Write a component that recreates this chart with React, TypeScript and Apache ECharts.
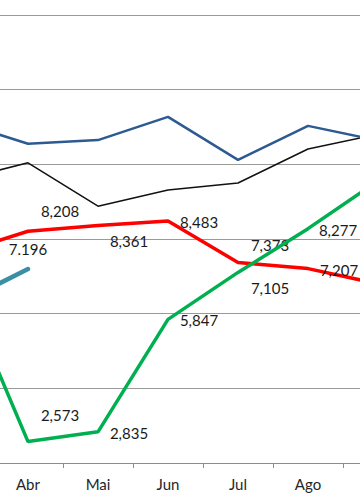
import React, { useEffect, useRef } from "react";
import * as echarts from "echarts";

// Visible window shows Abr..Ago; neighbours Mar and Set are partly visible (clipped)
const categories = ["Mar", "Abr", "Mai", "Jun", "Jul", "Ago", "Set"];
const redValues = [7.61, 8.208, 8.361, 8.483, 7.373, 7.207, 6.8];
const greenValues = [7.0, 2.573, 2.835, 5.847, 7.105, 8.277, 9.56];
const tealValues = [6.25, 7.196, null, null, null, null, null];
const navyValues = [11.15, 10.55, 10.65, 11.27, 10.12, 11.03, 10.64];
const blackValues = [9.57, 10.04, 8.88, 9.31, 9.5, 10.41, 10.81];
const yTicks = [2, 4, 6, 8, 10, 12, 14];

// label placement (style only): [dx, dy] per category, null = no label
const redLabelOffsets: ([number, number] | null)[] = [null, [32, -20], [31, 15], [31, 1], [32, -17], [31, 1], null];
const greenLabelOffsets: ([number, number] | null)[] = [null, [32, -27], [31, 1], [31, 1], [32, 16], [30, 1], null];
const tealLabelOffsets: ([number, number] | null)[] = [null, [0, -20], null, null, null, null, null];

const FONT = "Lato, 'Open Sans', sans-serif";

function buildData(values: (number | null)[], offsets: ([number, number] | null)[], sep: string) {
  return values.map((v, i) => {
    const off = offsets[i];
    if (v === null) return null;
    if (!off) return { value: v, label: { show: false } };
    return {
      value: v,
      label: {
        show: true,
        position: "inside",
        offset: off,
        formatter: () => v.toFixed(3).replace(".", sep),
      },
    };
  });
}

export default function App() {
  const ref = useRef<HTMLDivElement>(null);
  useEffect(() => {
    if (!ref.current) return;
    const chart = echarts.init(ref.current, undefined, { renderer: "svg" });
    const labelStyle = { fontFamily: FONT, fontSize: 15, color: "#1a1a1a" };
    const lastIdx = categories.length - 1;
    chart.setOption({
      animation: false,
      backgroundColor: "#ffffff",
      grid: { left: 0, right: 0, top: 15, bottom: 41, containLabel: false },
      xAxis: {
        type: "category",
        data: categories,
        boundaryGap: true,
        axisLine: { show: true, lineStyle: { color: "#8c8c8c", width: 1 } },
        axisTick: { show: true, length: 5, alignWithLabel: false, interval: 0, lineStyle: { color: "#8c8c8c" } },
        axisLabel: {
          fontFamily: FONT,
          fontSize: 15,
          color: "#262626",
          margin: 13,
          interval: (index: number) => index > 0 && index < lastIdx,
        },
        splitLine: { show: false },
      },
      yAxis: {
        type: "value",
        min: yTicks[0],
        max: yTicks[yTicks.length - 1],
        interval: 2,
        axisLine: { show: false },
        axisTick: { show: false },
        axisLabel: { show: false },
        splitLine: { show: true, lineStyle: { color: "#9a9a9a", width: 1 } },
      },
      series: [
        {
          type: "line",
          data: blackValues,
          symbol: "none",
          lineStyle: { color: "#111111", width: 1.5 },
          z: 2,
        },
        {
          type: "line",
          data: navyValues,
          symbol: "none",
          lineStyle: { color: "#2d5a91", width: 2.5 },
          z: 3,
        },
        {
          type: "line",
          data: buildData(redValues, redLabelOffsets, ","),
          symbol: "circle",
          symbolSize: 1,
          itemStyle: { color: "#ff0000" },
          lineStyle: { color: "#ff0000", width: 3.5 },
          label: labelStyle,
          z: 4,
        },
        {
          type: "line",
          data: buildData(greenValues, greenLabelOffsets, ","),
          symbol: "circle",
          symbolSize: 1,
          itemStyle: { color: "#00b050" },
          lineStyle: { color: "#00b050", width: 3.5 },
          label: labelStyle,
          z: 5,
        },
        {
          type: "line",
          data: buildData(tealValues, tealLabelOffsets, "."),
          symbol: "circle",
          symbolSize: 1,
          connectNulls: false,
          itemStyle: { color: "#3a8ea6" },
          lineStyle: { color: "#3a8ea6", width: 4.5, cap: "round" },
          label: labelStyle,
          z: 6,
        },
      ],
    });
    return () => chart.dispose();
  }, []);
  return (
    <div
      style={{
        position: "absolute",
        left: 0,
        top: 0,
        width: 360,
        height: 504,
        overflow: "hidden",
        background: "#fff",
      }}
    >
      <div
        ref={ref}
        style={{ position: "absolute", left: -77, top: 0, width: 490, height: 504 }}
      />
    </div>
  );
}
